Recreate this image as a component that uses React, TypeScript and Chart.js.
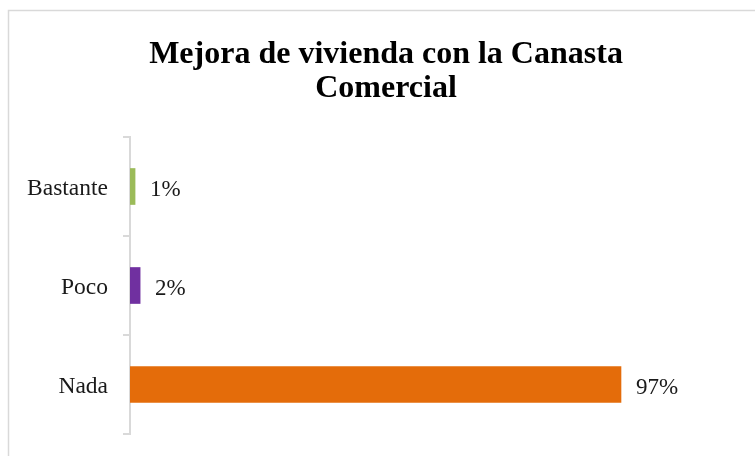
import React, { useEffect, useRef } from "react";
import { Chart, registerables } from "chart.js";

Chart.register(...registerables);

const categories = ["Bastante", "Poco", "Nada"];
const values = [1, 2, 97];
const barColors = ["#9BBB59", "#7030A0", "#E46C0A"];
const titleLines = ["Mejora de vivienda con la Canasta", "Comercial"];
const xMax = 121.5;

const SERIF = "'Liberation Serif', 'Times New Roman', serif";

const framePlugin = {
  id: "frame",
  beforeDraw(chart: any) {
    const ctx = chart.ctx;
    ctx.save();
    ctx.fillStyle = "#ffffff";
    ctx.fillRect(0, 0, chart.width, chart.height);
    ctx.strokeStyle = "#d9d9d9";
    ctx.lineWidth = 1.5;
    ctx.beginPath();
    ctx.moveTo(8.5, chart.height);
    ctx.lineTo(8.5, 10.5);
    ctx.lineTo(chart.width, 10.5);
    ctx.stroke();
    ctx.restore();
  },
};

const labelPlugin = {
  id: "barLabels",
  afterDatasetsDraw(chart: any) {
    const ctx = chart.ctx;
    const meta = chart.getDatasetMeta(0);
    const data = chart.data.datasets[0].data;
    ctx.save();
    ctx.font = `23px ${SERIF}`;
    ctx.fillStyle = "#1a1a1a";
    ctx.textAlign = "left";
    ctx.textBaseline = "middle";
    meta.data.forEach((bar: any, i: number) => {
      ctx.fillText(`${data[i]}%`, bar.x + 15, bar.y + 3);
    });
    ctx.restore();
  },
};

export default function App() {
  const ref = useRef<HTMLCanvasElement>(null);
  useEffect(() => {
    if (!ref.current) return;
    const chart = new Chart(ref.current, {
      type: "bar",
      data: {
        labels: categories,
        datasets: [
          {
            data: values,
            backgroundColor: barColors,
            borderWidth: 0,
            barThickness: 36,
          },
        ],
      },
      options: {
        indexAxis: "y",
        responsive: false,
        animation: false,
        layout: { padding: { left: 27, right: 10, top: 0, bottom: 22 } },
        plugins: {
          legend: { display: false },
          tooltip: { enabled: false },
          title: {
            display: true,
            text: titleLines,
            color: "#000000",
            font: { family: SERIF, size: 32, weight: "bold", lineHeight: 1.0625 },
            padding: { top: 38, bottom: 31 },
          },
        },
        scales: {
          x: { display: false, min: 0, max: xMax },
          y: {
            afterFit(scale: any) {
              scale.width = 103;
              scale.paddingTop = 0;
              scale.paddingBottom = 0;
            },
            grid: {
              display: true,
              drawOnChartArea: false,
              drawTicks: true,
              tickLength: 7,
              lineWidth: 2,
              color: "#d9d9d9",
              offset: true,
            },
            border: { display: true, color: "#d9d9d9", width: 2 },
            ticks: {
              color: "#1a1a1a",
              padding: 15,
              labelOffset: 2,
              font: { family: SERIF, size: 23.5 },
            },
          },
        },
      },
      plugins: [framePlugin, labelPlugin],
    });
    return () => chart.destroy();
  }, []);
  return (
    <canvas
      ref={ref}
      width={755}
      height={456}
      style={{ position: "fixed", left: 0, top: 0, display: "block" }}
    />
  );
}
